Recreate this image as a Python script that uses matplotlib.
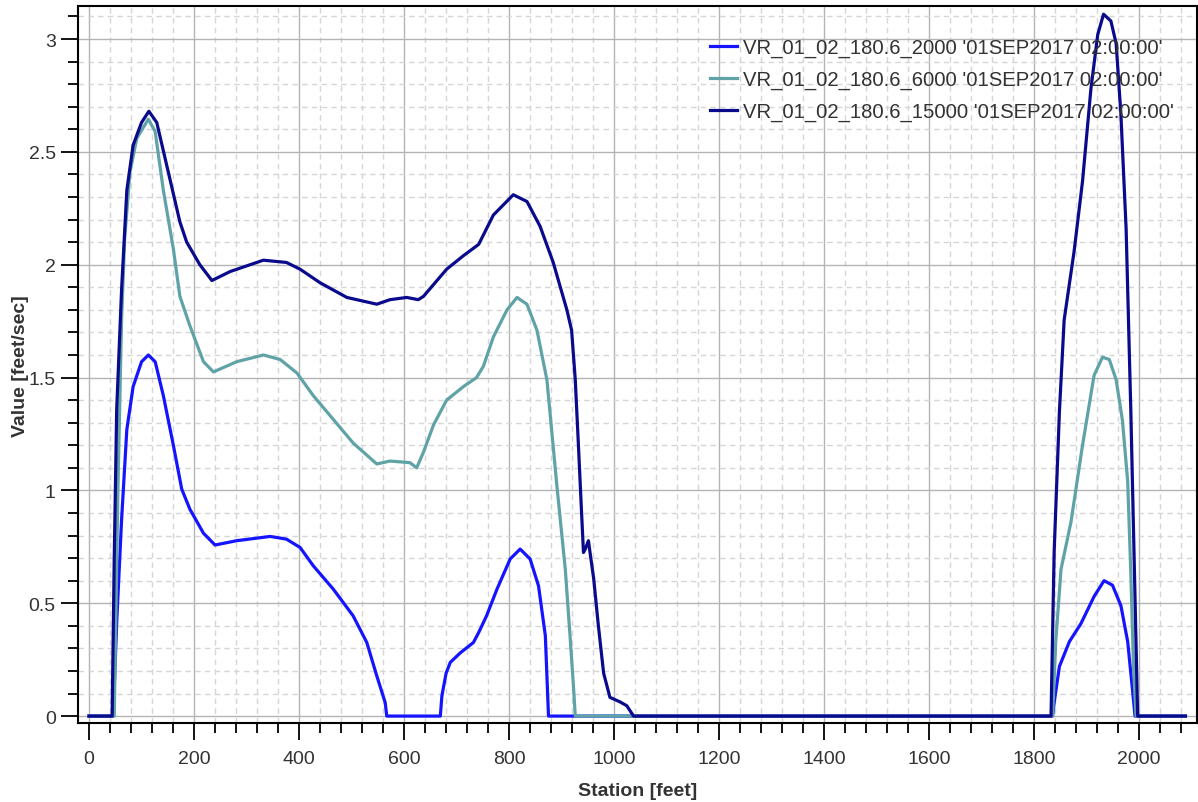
import matplotlib
matplotlib.use('Agg')
import matplotlib.pyplot as plt
from matplotlib.ticker import MultipleLocator

plt.rcParams['font.family'] = ['Liberation Sans', 'DejaVu Sans']

# station [feet] / value [feet/sec]
st_2000 = [0, 46, 53, 62, 72, 84, 100, 113, 126, 141.5, 160.6, 176.5, 192, 218, 240, 281, 345, 376,
           402, 427, 465, 503, 529, 548, 564, 567, 669, 672, 680, 688, 707, 732, 742, 757, 777, 802,
           821, 840, 856, 869, 875, 1835, 1838, 1848, 1867, 1889, 1914, 1933, 1949, 1965, 1978, 1987,
           1992, 2088]
v_2000 = [0, 0, 0.43, 0.87, 1.27, 1.46, 1.57, 1.60, 1.57, 1.42, 1.20, 1.006, 0.917, 0.81, 0.758,
          0.777, 0.796, 0.784, 0.747, 0.666, 0.563, 0.444, 0.326, 0.178, 0.06, 0, 0, 0.09, 0.19,
          0.238, 0.28, 0.326, 0.37, 0.444, 0.563, 0.696, 0.74, 0.696, 0.577, 0.356, 0, 0, 0.06, 0.22,
          0.33, 0.41, 0.53, 0.60, 0.58, 0.49, 0.33, 0.12, 0, 0]

st_6000 = [0, 48, 55, 62, 68, 78, 91, 113, 126, 141.5, 160.6, 173, 192, 218, 237, 281, 332, 364,
           396, 427, 465, 503, 548, 573, 611, 624, 637, 656, 681, 713, 738, 751, 770, 796, 815, 834,
           853, 872, 891, 907, 916, 922.5, 926, 1835, 1841, 1851, 1870, 1892, 1914, 1930, 1943, 1956,
           1968, 1978, 1984, 1989, 1994, 2088]
v_6000 = [0, 0, 1.0, 1.76, 2.12, 2.41, 2.56, 2.645, 2.59, 2.33, 2.07, 1.86, 1.73, 1.57, 1.525,
          1.57, 1.60, 1.58, 1.52, 1.42, 1.315, 1.21, 1.117, 1.13, 1.123, 1.10, 1.17, 1.29, 1.40, 1.46,
          1.50, 1.55, 1.68, 1.80, 1.855, 1.825, 1.71, 1.49, 1.02, 0.65, 0.356, 0.134, 0, 0, 0.33,
          0.65, 0.86, 1.20, 1.51, 1.59, 1.58, 1.49, 1.31, 1.04, 0.63, 0.22, 0, 0]

st_15000 = [0, 44, 48, 52.7, 62, 72, 84, 100, 114, 129, 148, 173, 186, 211, 234, 269, 332, 376,
            402, 440, 491, 548, 573, 605, 627, 637, 681, 713, 742, 770, 808, 834, 859, 884, 910,
            919, 926, 932, 938, 941.6, 945, 951, 961, 970, 980, 992, 1011, 1024, 1037, 1832, 1838,
            1848, 1857, 1876, 1892, 1908, 1921, 1932, 1946, 1956, 1965, 1975, 1984, 1990, 1997, 2088]
v_15000 = [0, 0, 0.7, 1.36, 1.89, 2.33, 2.53, 2.63, 2.68, 2.63, 2.44, 2.19, 2.10, 2.00, 1.93, 1.97,
           2.02, 2.01, 1.98, 1.92, 1.855, 1.825, 1.845, 1.855, 1.845, 1.86, 1.98, 2.04, 2.09, 2.22,
           2.31, 2.28, 2.17, 2.01, 1.80, 1.71, 1.49, 1.2, 0.9, 0.725, 0.74, 0.777, 0.61, 0.40, 0.19,
           0.083, 0.063, 0.046, 0, 0, 0.73, 1.35, 1.755, 2.06, 2.37, 2.78, 3.02, 3.11, 3.08, 2.98,
           2.67, 2.16, 1.35, 0.73, 0, 0]

labels = ["VR_01_02_180.6_2000 '01SEP2017 02:00:00'",
          "VR_01_02_180.6_6000 '01SEP2017 02:00:00'",
          "VR_01_02_180.6_15000 '01SEP2017 02:00:00'"]
colors = ['#1414ff', '#5fa3a6', '#0a0a8c']
text_color = '#333333'

fig = plt.figure(figsize=(11.98, 8.03), dpi=100)
fig.patch.set_facecolor('white')
ax = fig.add_axes([78 / 1198, 1 - 724.3 / 803, (1197 - 78) / 1198, (724.3 - 7.3) / 803])

for xs, ys, lab, c in zip([st_2000, st_6000, st_15000], [v_2000, v_6000, v_15000], labels, colors):
    ax.plot(xs, ys, color=c, lw=2.3, label=lab, solid_joinstyle='round')

ax.set_xlim(-21, 2110)
ax.set_ylim(-0.032, 3.145)

ax.xaxis.set_major_locator(MultipleLocator(200))
ax.xaxis.set_minor_locator(MultipleLocator(40))
ax.yaxis.set_minor_locator(MultipleLocator(0.1))
ax.set_yticks([0, 0.5, 1, 1.5, 2, 2.5, 3])
ax.set_yticklabels(['0', '0.5', '1', '1.5', '2', '2.5', '3'])

ax.set_axisbelow(True)
ax.grid(which='major', color='#b4b4b4', lw=1.0, ls='-')
ax.grid(which='minor', color='#d6d6d6', lw=1.0, ls=(0, (4, 3)))

ax.tick_params(which='major', direction='out', length=12, width=1.3, color='black',
               labelsize=14, labelcolor=text_color)
ax.tick_params(which='minor', direction='out', length=7, width=1.3, color='black')
ax.tick_params(axis='x', which='major', pad=7)
ax.tick_params(axis='y', which='major', pad=4)
for sp in ax.spines.values():
    sp.set_linewidth(1.5)
    sp.set_color('black')

ax.set_xlabel('Station [feet]', fontsize=14, fontweight='bold', color=text_color, labelpad=11)
ax.set_ylabel('Value [feet/sec]', fontsize=14, fontweight='bold', color=text_color, labelpad=0)

leg = ax.legend(loc='upper left', bbox_to_anchor=(710 / 1198, 1 - 39 / 803),
                bbox_transform=fig.transFigure, frameon=False, fontsize=14.6,
                handlelength=1.35, handletextpad=0.3, labelspacing=0.62,
                borderpad=0, borderaxespad=0)
for t in leg.get_texts():
    t.set_color(text_color)

plt.savefig('out.png', dpi=100, facecolor=fig.get_facecolor())
plt.close()
